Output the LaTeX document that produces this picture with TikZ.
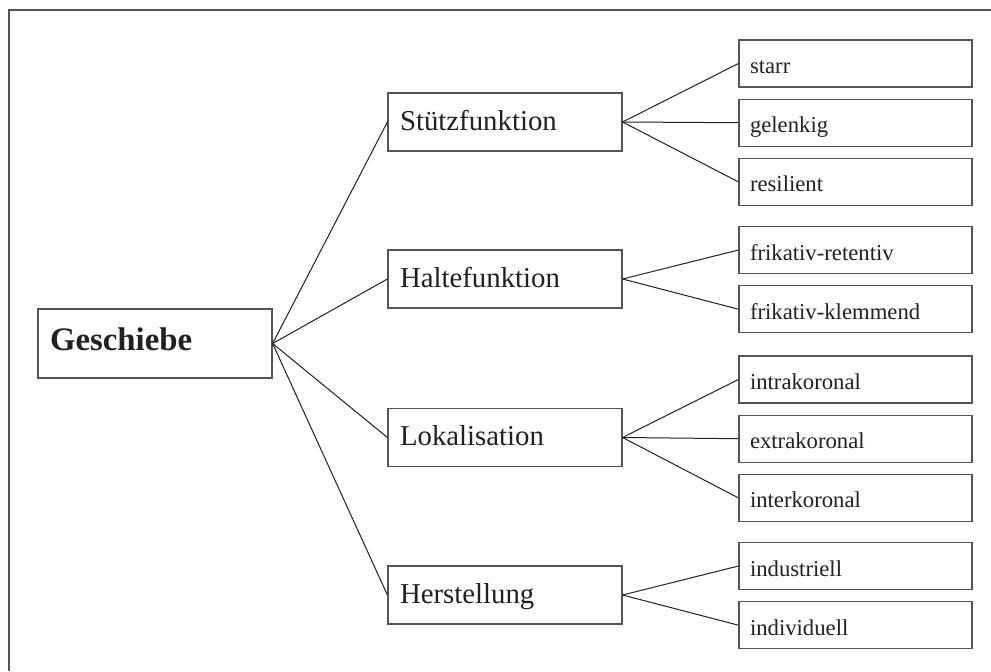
\documentclass[tikz,border=0pt]{standalone}
\usepackage{fontspec}
\setmainfont{Liberation Serif}
\usetikzlibrary{positioning}
\definecolor{gsText}{HTML}{231F20}
\definecolor{gsFrame}{HTML}{555555}
\tikzset{
  gsnode/.style={
    draw=gsFrame, line width=0.6pt, inner xsep=6pt, inner ysep=0pt,
    align=left, text=gsText
  },
  rootbox/.style={gsnode, minimum height=34.5pt, text width=105pt,
    font=\fontsize{16.4}{18}\selectfont\bfseries, text height=0.9em, text depth=0.2em},
  mainbox/.style={gsnode, minimum height=29pt, text width=105pt,
    font=\fontsize{14.4}{16}\selectfont, text height=1em, text depth=0.16em},
  leafbox/.style={gsnode, inner xsep=5.5pt, minimum height=23.5pt, text width=105.5pt,
    font=\fontsize{11.35}{13}\selectfont, text height=1.1em, text depth=0.1em},
  branch/.style={gsText, line width=0.5pt},
  frameline/.style={gsFrame, line width=0.8pt}
}
\begin{document}
\begin{tikzpicture}[x=0.5pt, y=-0.5pt]
  \useasboundingbox (0,0) rectangle (991,671);
  \draw[frameline] (9,671) -- (9,10) -- (991,10);

  \node[rootbox] (gesch) at (155,343.5) {Geschiebe};

  \node[mainbox] (stuetz) at (505,122) {Stützfunktion};
  \node[mainbox] (halte) at (505,279) {Haltefunktion};
  \node[mainbox] (lokal) at (505,437.5) {Lokalisation};
  \node[mainbox] (herst) at (505,595) {Herstellung};

  \node[leafbox] (starr) at (855.5,63.5) {starr};
  \node[leafbox, below=5.5pt of starr] (gelenk) {gelenkig};
  \node[leafbox, below=5.5pt of gelenk] (resil) {resilient};
  \node[leafbox] (fret) at (855.5,250) {frikativ-retentiv};
  \node[leafbox, below=5.5pt of fret] (fklem) {frikativ-klemmend};
  \node[leafbox] (intra) at (855.5,379.5) {intrakoronal};
  \node[leafbox, below=5.5pt of intra] (extra) {extrakoronal};
  \node[leafbox, below=5.5pt of extra] (inter) {interkoronal};
  \node[leafbox] (indus) at (855.5,566) {industriell};
  \node[leafbox, below=5.5pt of indus] (indiv) {individuell};

  \foreach \m in {stuetz, halte, lokal, herst}
    \draw[branch] (gesch.east) -- (\m.west);
  \foreach \l in {starr, gelenk, resil}
    \draw[branch] (stuetz.east) -- (\l.west);
  \foreach \l in {fret, fklem}
    \draw[branch] (halte.east) -- (\l.west);
  \foreach \l in {intra, extra, inter}
    \draw[branch] (lokal.east) -- (\l.west);
  \foreach \l in {indus, indiv}
    \draw[branch] (herst.east) -- (\l.west);
\end{tikzpicture}
\end{document}
